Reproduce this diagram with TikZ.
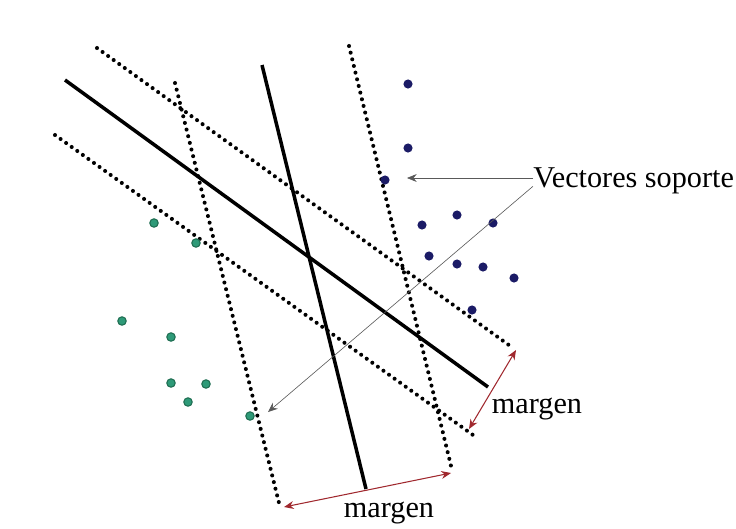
\documentclass[tikz,border=0pt]{standalone}
\usepackage{fontspec}
\setmainfont{Liberation Serif}
\usetikzlibrary{arrows.meta}
\definecolor{navydot}{HTML}{1B1B66}
\definecolor{greendot}{HTML}{2E9A78}
\definecolor{greenrim}{HTML}{1F6E52}
\definecolor{margred}{HTML}{A0282E}

\begin{document}
\begin{tikzpicture}[x=0.02cm,y=-0.02cm,font=\fontsize{17.2}{20}\selectfont,
  hyperline/.style={line width=2pt},
  dotline/.style={line width=2.3pt,line cap=round,dash pattern=on 0pt off 3.9pt},
  posdot/.style={circle,fill=navydot,inner sep=0pt,minimum size=5.2pt},
  negdot/.style={circle,fill=greendot,draw=greenrim,line width=0.6pt,inner sep=0pt,minimum size=4.8pt},
  pointer/.style={gray!70!black,line width=0.35pt,-{Stealth[length=5.5pt,width=4.5pt]}},
  marginarrow/.style={margred,line width=0.6pt,{Stealth[length=5.5pt,width=4.5pt]}-{Stealth[length=5.5pt,width=4.5pt]}}]
\useasboundingbox (0,0) rectangle (736,528);

% separating lines and their margins
\coordinate (h1a) at (65,80);   \coordinate (h1b) at (488,387);
\coordinate (h2a) at (262,65);  \coordinate (h2b) at (366,489);
\coordinate (u1a) at (97,48);   \coordinate (u1b) at (513,348);
\coordinate (l1a) at (55,135);  \coordinate (l1b) at (473,435);
\coordinate (l2a) at (175,83);  \coordinate (l2b) at (280,507);
\coordinate (r2a) at (349,46);  \coordinate (r2b) at (452,470);
\draw[dotline] (u1a) -- (u1b);
\draw[dotline] (l1a) -- (l1b);
\draw[dotline] (l2a) -- (l2b);
\draw[dotline] (r2a) -- (r2b);
\draw[hyperline] (h1a) -- (h1b);
\draw[hyperline] (h2a) -- (h2b);

% classes
\foreach \px/\py [count=\i] in {408/84,408/148,385/180,422/225,457/215,493/223,
    429/256,457/264,483/267,514/278,472/310}
  \node[posdot] (p\i) at (\px,\py) {};
\foreach \px/\py [count=\i] in {154/223,196/243,122/321,171/337,171/383,206/384,
    188/402,250/416}
  \node[negdot] (n\i) at (\px,\py) {};

% labels
\node[anchor=west,inner sep=0pt] (sv) at (533,181) {Vectores soporte};
\coordinate (tipA) at (407,178);
\coordinate (tipB) at (268,412);
\draw[pointer] (sv.west |- tipA) -- (tipA);
\draw[pointer] ([yshift=-3pt]sv.west) -- (tipB);

\coordinate (m1a) at (284,507); \coordinate (m1b) at (451,473);
\coordinate (m2a) at (516,350); \coordinate (m2b) at (469,429);
\draw[marginarrow] (m1a) -- (m1b);
\draw[marginarrow] (m2a) -- (m2b);
\node (mb) at (389,513) {margen};
\node (mr) at (537,409) {margen};
\end{tikzpicture}
\end{document}
